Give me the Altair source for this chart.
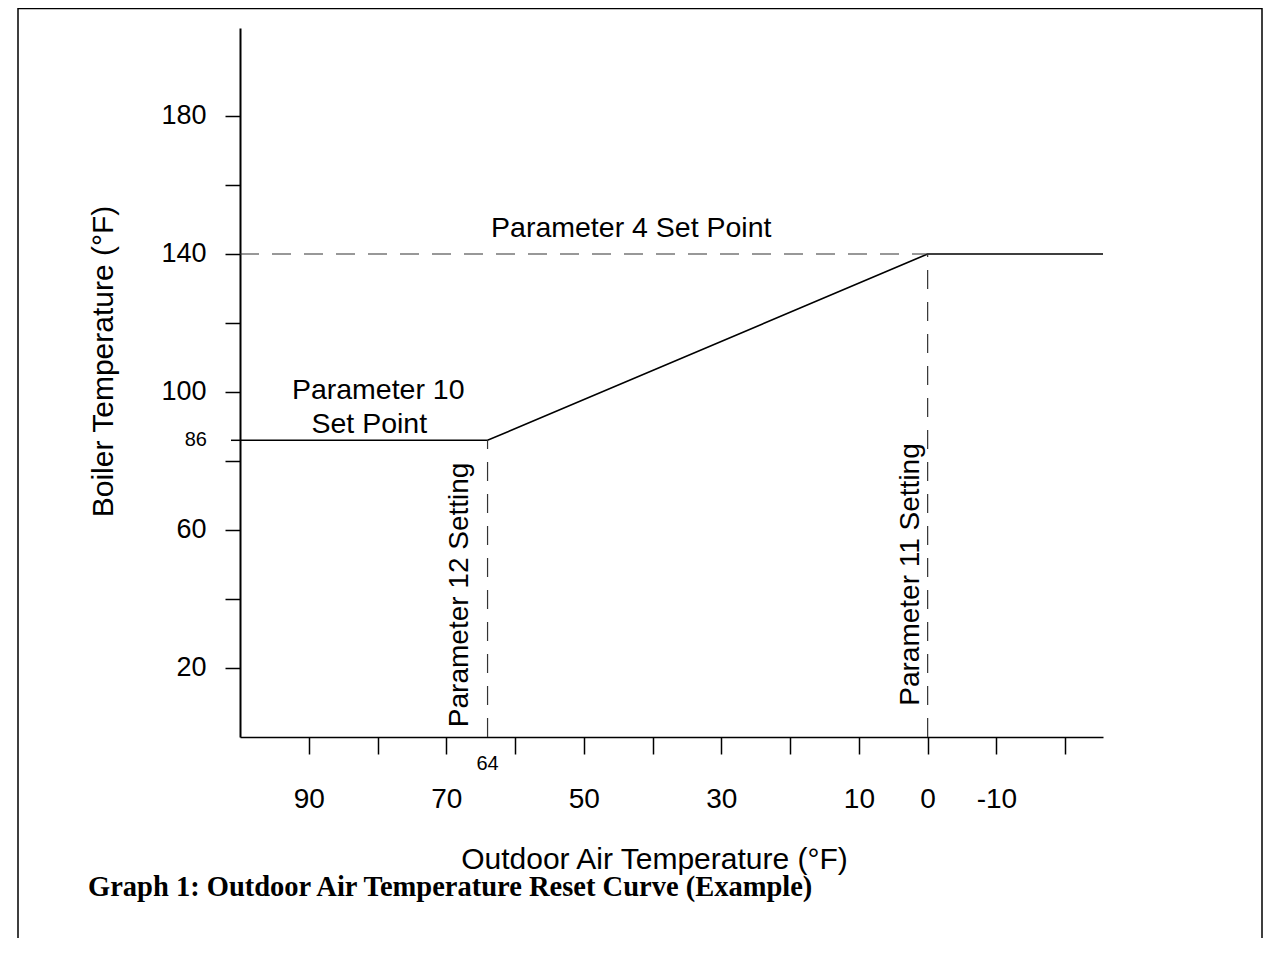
import altair as alt
import pandas as pd

# ---------------- data ----------------
# reset curve (outdoor temp, boiler temp)
curve_x = [100, 64, 0, -25.5]
curve_y = [86, 86, 140, 140]

# dashed guide lines (x, x2, y, y2)
guide_x = [100, 64, 0]
guide_x2 = [0, 64, 0]
guide_y = [140, 0, 0]
guide_y2 = [140, 86, 140]

# axis ticks / labels
x_ticks = [90, 80, 70, 60, 50, 40, 30, 20, 10, 0, -10, -20]
x_labels = [90, 70, 50, 30, 10, 0, -10]
y_ticks = [20, 40, 60, 80, 100, 120, 140, 160, 180]
y_labels = [20, 60, 100, 140, 180]
y_extra = [86]
x_extra = [64]

# annotations
ann_text = ["Parameter 4 Set Point", "Parameter 10", "Set Point"]
ann_x = [43.1, 79.9, 81.2]
ann_y = [144.9, 98.0, 88.1]

rot_text = ["Parameter 12 Setting", "Parameter 11 Setting"]
rot_x = [66.85, 1.3]
rot_y = [41.2, 47.1]

caption = "Graph 1: Outdoor Air Temperature Reset Curve (Example)"

# ---------------- chart ----------------
FONT = "Liberation Sans"
W, H = 863, 709

xs = alt.Scale(domain=[-25.5, 100], reverse=True, nice=False, zero=False)
ys = alt.Scale(domain=[0, 205.5], nice=False, zero=False)

curve_df = pd.DataFrame({"x": curve_x, "y": curve_y, "i": range(len(curve_x))})
guide_df = pd.DataFrame({"x": guide_x, "x2": guide_x2, "y": guide_y, "y2": guide_y2})
ann_df = pd.DataFrame({"t": ann_text, "x": ann_x, "y": ann_y})
rot_df = pd.DataFrame({"t": rot_text, "x": rot_x, "y": rot_y})
yex_df = pd.DataFrame({"y": y_extra, "t": [str(v) for v in y_extra]})
xex_df = pd.DataFrame({"x": x_extra, "t": [str(v) for v in x_extra]})
cap_df = pd.DataFrame({"t": [caption]})

x_axis = alt.Axis(
    values=x_ticks,
    labelExpr=f"indexof({x_labels}, datum.value) >= 0 ? '' + datum.value : ''",
    tickSize=17, tickWidth=1.5, tickColor="black",
    domainColor="black", domainWidth=1.5,
    labelFont=FONT, labelFontSize=28, labelColor="black", labelPadding=31,
    labelFlush=False, labelOverlap=False, grid=False,
    title="Outdoor Air Temperature (°F)", titleFont=FONT, titleFontSize=30,
    titleFontWeight="normal", titleColor="black",
    titleX=414, titleY=131, titleAlign="center", titleBaseline="alphabetic",
)
y_axis = alt.Axis(
    values=y_ticks,
    labelExpr=f"indexof({y_labels}, datum.value) >= 0 ? '' + datum.value : ''",
    tickSize=15, tickWidth=1.5, tickColor="black",
    domainColor="black", domainWidth=2,
    labelFont=FONT, labelFontSize=27, labelColor="black", labelPadding=19,
    labelFlush=False, labelOverlap=False, grid=False,
    title="Boiler Temperature (°F)", titleFont=FONT, titleFontSize=30,
    titleFontWeight="normal", titleColor="black",
    titleX=-128, titleY=333, titleAngle=270, titleAlign="center",
    titleBaseline="alphabetic",
)

curve = alt.Chart(curve_df).mark_line(color="black", strokeWidth=1.6).encode(
    x=alt.X("x:Q", scale=xs, axis=x_axis),
    y=alt.Y("y:Q", scale=ys, axis=y_axis),
    order="i:O",
)

guides = alt.Chart(guide_df).mark_rule(
    color="#333333", strokeWidth=1.2, strokeDash=[19, 13]
).encode(
    x=alt.X("x:Q", scale=xs), x2="x2:Q",
    y=alt.Y("y:Q", scale=ys), y2="y2:Q",
)

ann = alt.Chart(ann_df).mark_text(
    font=FONT, fontSize=28.5, color="black", align="center", baseline="alphabetic"
).encode(
    x=alt.X("x:Q", scale=xs),
    y=alt.Y("y:Q", scale=ys),
    text="t:N",
)

rot = alt.Chart(rot_df).mark_text(
    font=FONT, fontSize=28, color="black", align="center",
    baseline="alphabetic", angle=270
).encode(
    x=alt.X("x:Q", scale=xs),
    y=alt.Y("y:Q", scale=ys),
    text="t:N",
)

ytick86 = alt.Chart(yex_df).mark_rule(color="black", strokeWidth=1.5).encode(
    y=alt.Y("y:Q", scale=ys),
    x=alt.value(-9), x2=alt.value(0),
)
ylab86 = alt.Chart(yex_df).mark_text(
    font=FONT, fontSize=20, color="black", align="right", baseline="middle"
).encode(
    y=alt.Y("y:Q", scale=ys),
    x=alt.value(-33),
    text="t:N",
)
xlab64 = alt.Chart(xex_df).mark_text(
    font=FONT, fontSize=20, color="black", align="center", baseline="top"
).encode(
    x=alt.X("x:Q", scale=xs),
    y=alt.value(H + 16.5),
    text="t:N",
)

cap = alt.Chart(cap_df).mark_text(
    font="Liberation Serif", fontSize=28.5, fontWeight="bold", color="black",
    align="left", baseline="alphabetic"
).encode(
    x=alt.value(-152), y=alt.value(868), text="t:N",
)

frame = alt.Chart(cap_df).mark_rect(
    filled=False, stroke="black", strokeWidth=1.5
).encode(
    x=alt.value(-222), x2=alt.value(1022),
    y=alt.value(-19.5), y2=alt.value(1000),
)

chart = alt.layer(
    curve, frame, guides, ann, rot, ytick86, ylab86, xlab64, cap
).properties(
    width=W, height=H,
    autosize=alt.AutoSizeParams(type="none"),
    padding={"left": 232, "top": 20, "right": 160, "bottom": 201},
).configure(
    background="white",
    view=alt.ViewConfig(stroke=None),
)

chart.save("out.html", embed_options={"renderer": "svg", "actions": False})
